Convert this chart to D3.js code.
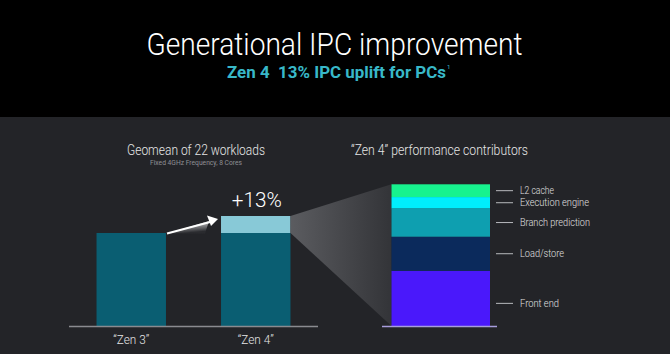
<!DOCTYPE html>
<html>
<head>
<meta charset="utf-8">
<script src="https://cdn.jsdelivr.net/npm/d3@7"></script>
<style>
  html, body { margin: 0; padding: 0; background: #232428; }
  svg { display: block; font-family: Roboto, "Open Sans", sans-serif; }
</style>
</head>
<body>
<svg id="chart" width="670" height="354"></svg>
<script>
// ---- data ----
var gens = ['\u201CZen 3\u201D', '\u201CZen 4\u201D'];
var ipc = [1.00, 1.13];                 // relative IPC, Zen 3 = 1
var parts = ['Front end', 'Load/store', 'Branch prediction', 'Execution engine', 'L2 cache'];
var share = [39, 24, 20, 8, 9];         // % of the uplift, bottom -> top
var partColors = ['#4a18fb', '#0b2a5c', '#0e9fb0', '#00eefc', '#17f28e'];

var W = 670, H = 354;
var svg = d3.select('#chart');
var defs = svg.append('defs');

// fit text to a measured width (the slide font is condensed)
function fit(sel, w) { return sel.attr('textLength', w).attr('lengthAdjust', 'spacingAndGlyphs'); }

svg.append('rect').attr('width', W).attr('height', H).attr('fill', '#232428');
svg.append('rect').attr('width', W).attr('height', 117).attr('fill', '#000');

fit(svg.append('text').attr('x', 146.5).attr('y', 55)
  .attr('font-size', 32).attr('font-weight', 300).attr('fill', '#fff')
  .text('Generational IPC improvement'), 376);

// subtitle with its footnote mark in the same text element
var sub = svg.append('text').attr('x', 227).attr('y', 77.5)
  .attr('font-size', 16.5).attr('font-weight', 700).attr('fill', '#38b8c8');
fit(sub.append('tspan').text('Zen 4\u00A0\u00A013% IPC uplift for PCs'), 219);
sub.append('tspan').attr('dx', 1).attr('dy', -9).attr('font-size', 6).attr('font-weight', 400).text('1');

// ---- left: Zen 3 vs Zen 4 ----
var x = d3.scaleBand().domain(gens).range([69, 318]).paddingInner(0.442).paddingOuter(0.221);
var y = d3.scaleLinear().domain([0.285, 1.13]).range([326.5, 216]);
var bw = x.bandwidth();

fit(svg.append('text').attr('x', 127).attr('y', 155).attr('font-size', 14.5).attr('font-weight', 300)
  .attr('fill', '#e6e6e6').text('Geomean of 22 workloads'), 138);
fit(svg.append('text').attr('x', 150).attr('y', 165).attr('font-size', 7).attr('fill', '#8f9095')
  .text('Fixed 4GHz Frequency, 8 Cores'), 92);

// base part of each bar = Zen 3 level, uplift on top
svg.selectAll('rect.base').data(gens).enter().append('rect').attr('class', 'base')
  .attr('x', function (d) { return x(d); }).attr('width', bw)
  .attr('y', y(ipc[0])).attr('height', y(0.285) - y(ipc[0]))
  .attr('fill', '#0a5e72');
svg.append('rect')
  .attr('x', x(gens[1])).attr('width', bw)
  .attr('y', y(ipc[1])).attr('height', y(ipc[0]) - y(ipc[1]))
  .attr('fill', '#88c9d7');

svg.append('line').attr('x1', 69).attr('x2', 318).attr('y1', 326.5).attr('y2', 326.5)
  .attr('stroke', '#8a8b90').attr('stroke-width', 1.5);

svg.selectAll('text.gen').data(gens).enter().append('text').attr('class', 'gen')
  .attr('x', function (d) { return x(d) + bw / 2; }).attr('y', 344)
  .attr('text-anchor', 'middle').attr('font-size', 13).attr('font-weight', 300).attr('fill', '#e6e6e6')
  .each(function () { fit(d3.select(this), 36); })
  .text(function (d) { return d; });

var pct = Math.round((ipc[1] / ipc[0] - 1) * 100);
fit(svg.append('text').attr('x', x(gens[1]) + bw / 2 + 1).attr('y', 206.5).attr('text-anchor', 'middle')
  .attr('font-size', 21).attr('font-weight', 300).attr('fill', '#fff')
  .text('+' + pct + '%'), 50);

// arrow from Zen 3 top to Zen 4
var ag = defs.append('linearGradient').attr('id', 'arrowg').attr('x1', 0).attr('y1', 0).attr('x2', 0.3).attr('y2', 1);
ag.append('stop').attr('offset', 0).attr('stop-color', '#ffffff');
ag.append('stop').attr('offset', 1).attr('stop-color', '#2a2b2f');
var ax0 = x(gens[0]) + bw + 1, ay0 = y(ipc[0]) + 0.5;
var ax1 = x(gens[1]) - 3, ay1 = y(ipc[1]) + 3;
svg.append('path')
  .attr('d', 'M' + ax0 + ',' + ay0 + 'L' + (ax1 - 9) + ',' + (ay1 + 2) + 'L' + (ax1 - 13) + ',' + ay0 + 'Z')
  .attr('fill', 'url(#arrowg)');
svg.append('path')
  .attr('d', 'M' + ax0 + ',' + ay0 + 'L' + (ax1 - 6) + ',' + (ay1 + 2.5))
  .attr('stroke', '#fff').attr('stroke-width', 2);
svg.append('path')
  .attr('d', 'M' + ax1 + ',' + ay1 + 'L' + (ax1 - 11) + ',' + (ay1 - 3.5) + 'L' + (ax1 - 7) + ',' + (ay1 + 7) + 'Z')
  .attr('fill', '#fff');

// ---- right: contributors stack ----
var sx0 = 391.5, sx1 = 490;
var ys = d3.scaleLinear().domain([0, d3.sum(share)]).range([326, 184.3]);

var zg = defs.append('linearGradient').attr('id', 'zoomg').attr('x1', 0).attr('x2', 1).attr('y1', 0).attr('y2', 0);
zg.append('stop').attr('offset', 0).attr('stop-color', '#5b5c60');
zg.append('stop').attr('offset', 1).attr('stop-color', '#333438');
var zx = x(gens[1]) + bw;
svg.append('path')
  .attr('d', 'M' + zx + ',' + y(ipc[1]) + 'L' + sx0 + ',' + ys(d3.sum(share)) +
             'L' + sx0 + ',' + ys(0) + 'L' + zx + ',' + y(ipc[0]) + 'Z')
  .attr('fill', 'url(#zoomg)');

fit(svg.append('text').attr('x', 351).attr('y', 155).attr('font-size', 14.5).attr('font-weight', 300)
  .attr('fill', '#e6e6e6').text('\u201CZen 4\u201D performance contributors'), 177);

var stack = [], acc = 0;
share.forEach(function (v, i) { stack.push({ name: parts[i], v0: acc, v1: acc + v, color: partColors[i] }); acc += v; });

svg.selectAll('rect.part').data(stack).enter().append('rect').attr('class', 'part')
  .attr('x', sx0).attr('width', sx1 - sx0)
  .attr('y', function (d) { return ys(d.v1); })
  .attr('height', function (d) { return ys(d.v0) - ys(d.v1); })
  .attr('fill', function (d) { return d.color; });

svg.append('line').attr('x1', 382).attr('x2', 497).attr('y1', 326.5).attr('y2', 326.5)
  .attr('stroke', '#a79ddc').attr('stroke-width', 1.5);

// leader lines sit at each segment's middle; the big bottom one is a bit lower on the slide
var labW = { 'L2 cache': 34, 'Execution engine': 69, 'Branch prediction': 70, 'Load/store': 44, 'Front end': 39 };
var lg = svg.selectAll('g.leg').data(stack).enter().append('g').attr('class', 'leg')
  .attr('transform', function (d, i) { return 'translate(0,' + (ys((d.v0 + d.v1) / 2) + (i === 0 ? 5 : 0)) + ')'; });
lg.append('line').attr('x1', 496).attr('x2', 513).attr('stroke', '#b8b9bd').attr('stroke-width', 1);
lg.append('text').attr('x', 520).attr('dy', '0.35em').attr('font-size', 10.5).attr('font-weight', 300)
  .attr('fill', '#e0e0e0')
  .each(function (d) { fit(d3.select(this), labW[d.name]); })
  .text(function (d) { return d.name; });
</script>
</body>
</html>
